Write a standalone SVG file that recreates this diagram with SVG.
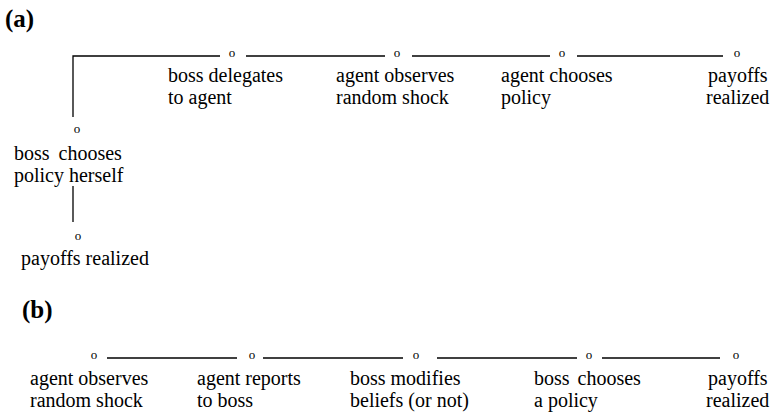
<svg xmlns="http://www.w3.org/2000/svg" width="776" height="415" viewBox="0 0 776 415">
<style>
.lbl{font-size:20px}
.ttl{font-size:25px;font-weight:bold}
.o{font-size:13px;text-anchor:middle}
.ln{stroke:#000;stroke-width:1.3;fill:none}
</style>
<rect width="776" height="415" fill="#fff"/>
<g font-family="Liberation Serif, serif" fill="#000">
<text class="ttl" x="5" y="27">(a)</text>
<text class="ttl" x="22" y="318">(b)</text>
</g>
<g id="connectors">
<polyline class="ln" points="73,117 73,56 220,56"/>
<line class="ln" x1="246" y1="56" x2="385" y2="56"/>
<line class="ln" x1="412" y1="56" x2="550" y2="56"/>
<line class="ln" x1="577" y1="56" x2="723" y2="56"/>
<line class="ln" x1="73" y1="186" x2="73" y2="222"/>
<line class="ln" x1="107" y1="358" x2="237" y2="358"/>
<line class="ln" x1="263" y1="358" x2="403" y2="358"/>
<line class="ln" x1="437" y1="358" x2="577" y2="358"/>
<line class="ln" x1="602" y1="358" x2="720" y2="358"/>
</g>
<g font-family="Liberation Serif, serif" fill="#000">
<g id="a-delegates"><text class="o" x="232" y="57">o</text><text class="lbl" x="168" y="82">boss delegates</text><text class="lbl" x="168" y="104">to agent</text></g>
<g id="a-observes"><text class="o" x="397" y="57">o</text><text class="lbl" x="336" y="82">agent observes</text><text class="lbl" x="336" y="104">random shock</text></g>
<g id="a-chooses"><text class="o" x="562" y="57">o</text><text class="lbl" x="501" y="82">agent chooses</text><text class="lbl" x="501" y="104">policy</text></g>
<g id="a-payoffs"><text class="o" x="737" y="57">o</text><text class="lbl" x="708" y="82">payoffs</text><text class="lbl" x="706" y="104">realized</text></g>
<g id="a-boss-herself"><text class="o" x="77" y="133">o</text><text class="lbl" x="14" y="160" word-spacing="4">boss chooses</text><text class="lbl" x="14" y="182">policy herself</text></g>
<g id="a-payoffs-herself"><text class="o" x="78" y="240">o</text><text class="lbl" x="21" y="265">payoffs realized</text></g>
<g id="b-observes"><text class="o" x="94" y="359">o</text><text class="lbl" x="30" y="385">agent observes</text><text class="lbl" x="30" y="407">random shock</text></g>
<g id="b-reports"><text class="o" x="252" y="359">o</text><text class="lbl" x="197" y="385">agent reports</text><text class="lbl" x="197" y="407">to boss</text></g>
<g id="b-modifies"><text class="o" x="416" y="359">o</text><text class="lbl" x="350" y="385">boss modifies</text><text class="lbl" x="350" y="407">beliefs (or not)</text></g>
<g id="b-chooses"><text class="o" x="589" y="359">o</text><text class="lbl" x="534" y="385" word-spacing="3">boss chooses</text><text class="lbl" x="534" y="407">a policy</text></g>
<g id="b-payoffs"><text class="o" x="736" y="359">o</text><text class="lbl" x="708" y="385">payoffs</text><text class="lbl" x="706" y="407">realized</text></g>
</g>
</svg>
